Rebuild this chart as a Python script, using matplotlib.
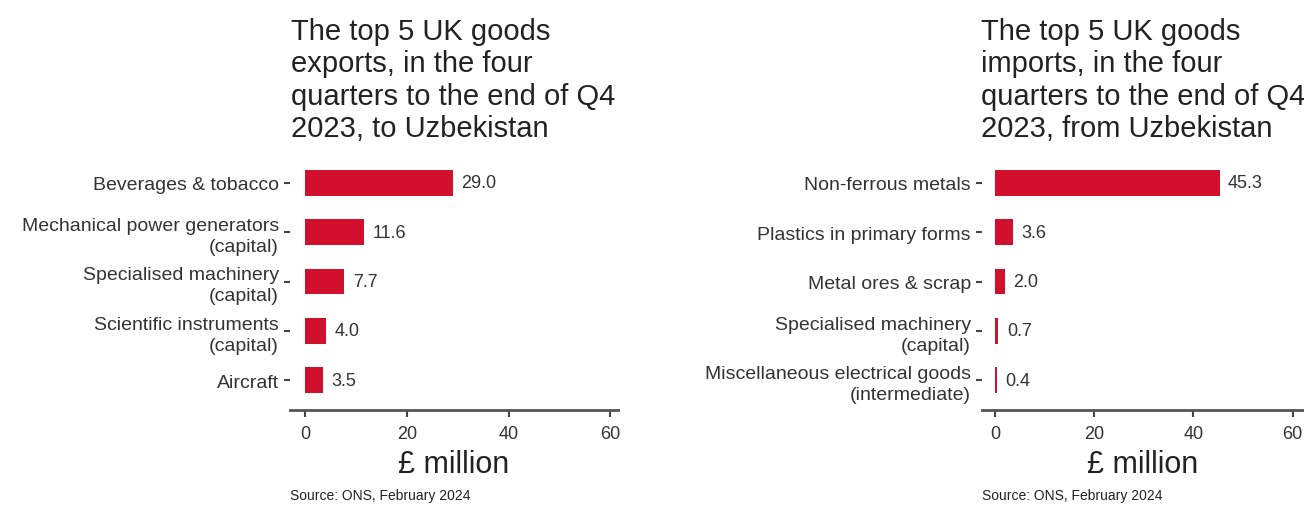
import matplotlib.pyplot as plt

plt.rcParams['font.family'] = ['Liberation Sans', 'DejaVu Sans']

# exports to Uzbekistan (£ million)
export_labels = ['Beverages & tobacco',
                 'Mechanical power generators\n(capital)',
                 'Specialised machinery\n(capital)',
                 'Scientific instruments\n(capital)',
                 'Aircraft']
export_values = [29.0, 11.6, 7.7, 4.0, 3.5]

# imports from Uzbekistan (£ million)
import_labels = ['Non-ferrous metals',
                 'Plastics in primary forms',
                 'Metal ores & scrap',
                 'Specialised machinery\n(capital)',
                 'Miscellaneous electrical goods\n(intermediate)']
import_values = [45.3, 3.6, 2.0, 0.7, 0.4]

x_ticks = [0, 20, 40, 60]

export_title = 'The top 5 UK goods\nexports, in the four\nquarters to the end of Q4\n2023, to Uzbekistan'
import_title = 'The top 5 UK goods\nimports, in the four\nquarters to the end of Q4\n2023, from Uzbekistan'
source = 'Source: ONS, February 2024'

bar_color = '#d0102c'
text_color = '#333333'
W, H = 1304, 510

fig = plt.figure(figsize=(W / 100, H / 100), dpi=100)


def draw_panel(rect, labels, values, xlim, title, title_x):
    ax = fig.add_axes(rect)
    pos = list(range(len(labels)))
    ax.barh(pos, values, height=0.52, color=bar_color)
    for p, v in zip(pos, values):
        ax.text(v + 1.7, p, f'{v:.1f}', va='center', ha='left',
                fontsize=13, color=text_color)
    ax.set_yticks(pos)
    ax.set_yticklabels(labels, fontsize=14, color=text_color, linespacing=1.3)
    ax.set_ylim(len(labels) - 0.4, -0.6)
    ax.set_xlim(*xlim)
    ax.set_xticks(x_ticks)
    ax.tick_params(axis='x', labelsize=13, labelcolor=text_color, color='#444444',
                   length=5, width=1.5, pad=6)
    ax.tick_params(axis='y', color='#444444', length=4, width=1.5, pad=4)
    for s in ['top', 'right', 'left']:
        ax.spines[s].set_visible(False)
    ax.spines['bottom'].set_color('#555555')
    ax.spines['bottom'].set_linewidth(2)
    ax.set_xlabel('£ million', fontsize=22, color='#222222', labelpad=5)
    ax.patch.set_visible(False)
    fig.text(title_x / W, 1 - 18 / H, title, fontsize=21, color='#222222',
             ha='left', va='top')
    fig.text(rect[0], 1 - 500 / H, source, fontsize=10, color='#222222',
             ha='left', va='baseline')
    return ax


ax_bottom = 1 - 411 / H
ax_height = (411 - 154) / H
draw_panel([290 / W, ax_bottom, 328 / W, ax_height],
           export_labels, export_values, (-3, 61.5), export_title, 291)
draw_panel([982 / W, ax_bottom, 322 / W, ax_height],
           import_labels, import_values, (-2.6, 62.3), import_title, 981)

fig.savefig('out.png', dpi=100)
